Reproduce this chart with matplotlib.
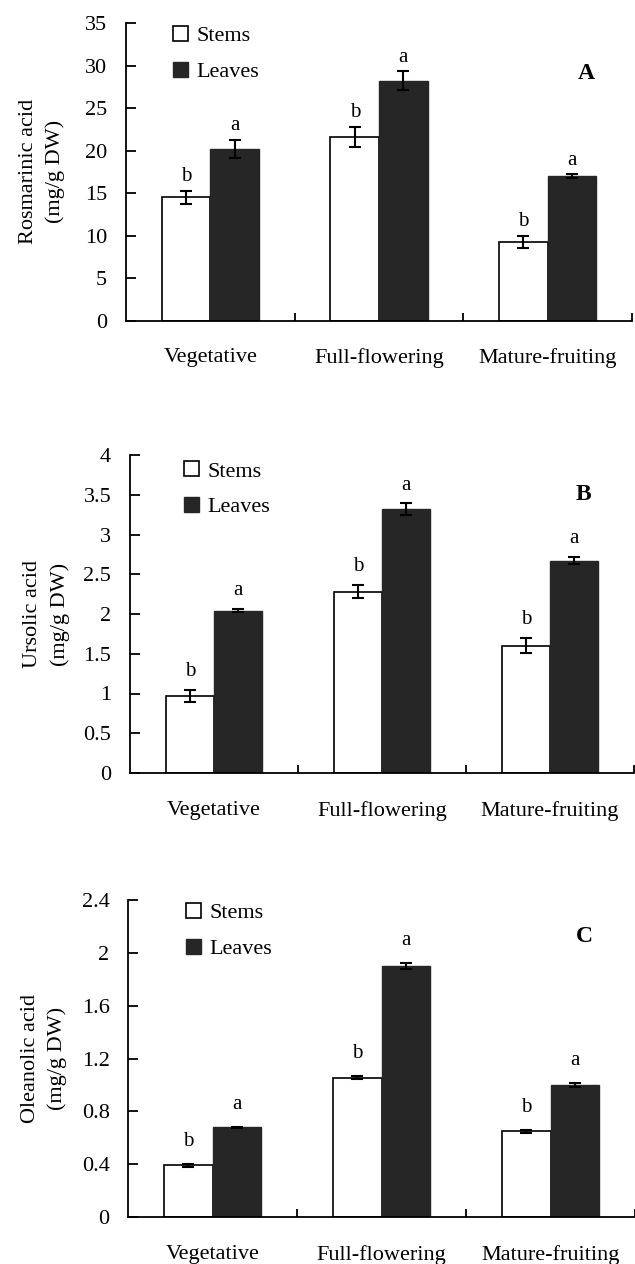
import matplotlib.pyplot as plt
import numpy as np
from matplotlib.patches import Patch

plt.rcParams['font.family'] = ['Liberation Serif', 'DejaVu Serif']

stages = ['Vegetative', 'Full-flowering', 'Mature-fruiting']

# rosmarinic acid (mg/g DW)
ra_stems = [14.5, 21.6, 9.3]
ra_stems_err = [0.8, 1.2, 0.7]
ra_leaves = [20.2, 28.2, 17.0]
ra_leaves_err = [1.1, 1.1, 0.2]
ra_ticks = [0, 5, 10, 15, 20, 25, 30, 35]
ra_ticklabels = ['0', '5', '10', '15', '20', '25', '30', '35']

# ursolic acid (mg/g DW)
ua_stems = [0.97, 2.28, 1.60]
ua_stems_err = [0.075, 0.08, 0.095]
ua_leaves = [2.04, 3.32, 2.67]
ua_leaves_err = [0.02, 0.07, 0.045]
ua_ticks = [0, 0.5, 1, 1.5, 2, 2.5, 3, 3.5, 4]
ua_ticklabels = ['0', '0.5', '1', '1.5', '2', '2.5', '3', '3.5', '4']

# oleanolic acid (mg/g DW)
oa_stems = [0.39, 1.055, 0.65]
oa_stems_err = [0.012, 0.012, 0.012]
oa_leaves = [0.68, 1.90, 1.00]
oa_leaves_err = [0.004, 0.025, 0.012]
oa_ticks = [0, 0.4, 0.8, 1.2, 1.6, 2, 2.4]
oa_ticklabels = ['0', '0.4', '0.8', '1.2', '1.6', '2', '2.4']

stem_letters = ['b', 'b', 'b']
leaf_letters = ['a', 'a', 'a']

panels = [
    ('A', 'Rosmarinic acid\n(mg/g DW)', ra_stems, ra_stems_err, ra_leaves, ra_leaves_err,
     ra_ticks, ra_ticklabels),
    ('B', 'Ursolic acid\n(mg/g DW)', ua_stems, ua_stems_err, ua_leaves, ua_leaves_err,
     ua_ticks, ua_ticklabels),
    ('C', 'Oleanolic acid\n(mg/g DW)', oa_stems, oa_stems_err, oa_leaves, oa_leaves_err,
     oa_ticks, oa_ticklabels),
]

# axes rectangles in pixels: left, bottom(y of zero line), right, top
W, H = 635, 1264
boxes = [(126, 320.7, 632, 23), (130, 773, 634, 455), (128.3, 1217, 635, 900)]
letter_off = [7, 10, 13]
legend_pos = [(0.093, 0.99), (0.108, 0.98), (0.114, 0.99)]
panel_pos = [(0.91, 0.83), (0.90, 0.875), (0.90, 0.885)]

fig = plt.figure(figsize=(W / 100, H / 100), dpi=100)
x = np.arange(len(stages))
bw = 0.288
fs = 16
leaf_color = '#262626'

for i, (tag, ylab, st, st_e, lv, lv_e, yt, ytl) in enumerate(panels):
    l, b, r, t = boxes[i]
    ax = fig.add_axes([l / W, 1 - b / H, (r - l) / W, (b - t) / H])

    ax.bar(x - bw / 2, st, bw, color='white', edgecolor='black', linewidth=1.2,
           yerr=st_e, error_kw=dict(ecolor='black', elinewidth=1.5, capsize=4.5, capthick=1.5))
    ax.bar(x + bw / 2, lv, bw, color=leaf_color, edgecolor=leaf_color, linewidth=1.0,
           yerr=lv_e, error_kw=dict(ecolor='black', elinewidth=1.5, capsize=4.5, capthick=1.5))

    for j in range(len(stages)):
        ax.annotate(stem_letters[j], (x[j] - bw / 2, st[j] + st_e[j]), xytext=(0, letter_off[i]),
                    textcoords='offset points', ha='center', va='baseline', fontsize=15)
        ax.annotate(leaf_letters[j], (x[j] + bw / 2, lv[j] + lv_e[j]), xytext=(0, letter_off[i]),
                    textcoords='offset points', ha='center', va='baseline', fontsize=15)

    ax.set_xlim(-0.5, 2.5)
    ax.set_ylim(yt[0], yt[-1])
    ax.set_yticks(yt)
    ax.set_yticklabels(ytl)
    ax.set_xticks(x)
    ax.set_xticklabels(stages)
    ax.set_xticks([0.5, 1.5, 2.5], minor=True)

    for s in ['top', 'right']:
        ax.spines[s].set_visible(False)
    for s in ['left', 'bottom']:
        ax.spines[s].set_linewidth(1.3)

    ax.tick_params(axis='y', direction='in', length=7, width=1.3, pad=13.5, labelsize=fs)
    ax.tick_params(axis='x', which='major', length=0, pad=20, labelsize=fs)
    ax.tick_params(axis='x', which='minor', direction='in', length=6, width=1.3)

    ax.set_ylabel(ylab, fontsize=fs, linespacing=1.5)
    ax.yaxis.set_label_coords(-0.12, 0.5)

    handles = [Patch(facecolor='white', edgecolor='black', linewidth=1.2, label='Stems'),
               Patch(facecolor=leaf_color, edgecolor=leaf_color, label='Leaves')]
    ax.legend(handles=handles, loc='upper left', bbox_to_anchor=legend_pos[i], frameon=False,
              fontsize=fs, handlelength=0.65, handleheight=0.65, handletextpad=0.4,
              labelspacing=0.7, borderpad=0, borderaxespad=0)

    ax.text(panel_pos[i][0], panel_pos[i][1], tag, transform=ax.transAxes, fontsize=17,
            fontweight='bold', ha='center', va='center')

plt.savefig('out.png', dpi=100)
